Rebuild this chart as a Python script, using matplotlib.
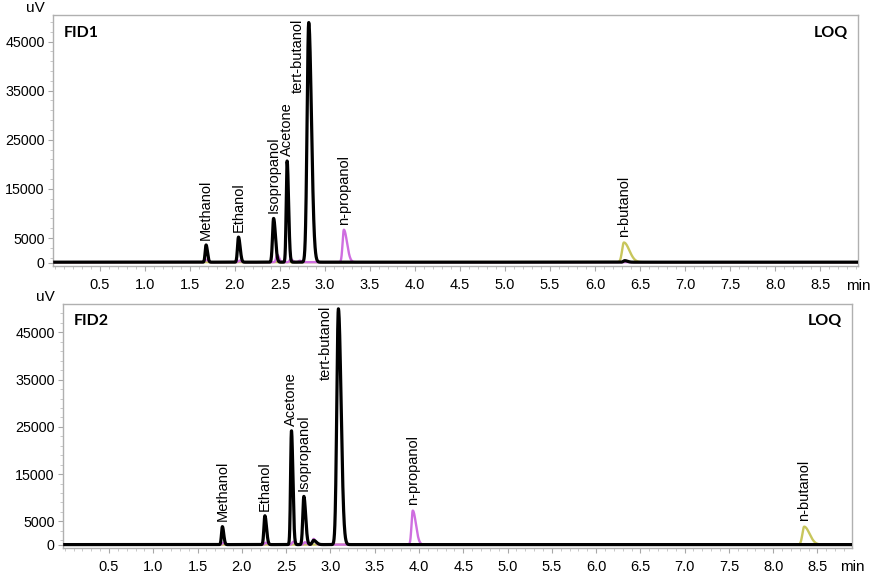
import numpy as np
import matplotlib
matplotlib.use("Agg")
import matplotlib.pyplot as plt
from matplotlib.ticker import FixedLocator, MultipleLocator

plt.rcParams['font.family'] = ['Liberation Sans', 'DejaVu Sans']

# ---------------- data ----------------
compounds = ["Methanol", "Ethanol", "Isopropanol", "Acetone", "tert-butanol", "n-propanol", "n-butanol"]
peak_trace = ["black", "black", "black", "black", "black", "magenta", "olive"]
width_left = [0.010, 0.011, 0.012, 0.010, 0.018, 0.014, 0.020]
width_right = [0.015, 0.018, 0.020, 0.016, 0.030, 0.035, 0.060]

fid1_rt = [1.68, 2.04, 2.43, 2.58, 2.82, 3.21, 6.32]
fid1_height = [3500, 5100, 8900, 20600, 48800, 6600, 4000]
fid2_rt = [1.78, 2.26, 2.70, 2.56, 3.09, 3.93, 8.35]
fid2_height = [3800, 6100, 10200, 24100, 49900, 7200, 3800]

# minor peaks of the magenta and black traces
fid1_magenta_minor_rt = [1.68, 2.05, 2.47, 2.62, 2.72]
fid1_magenta_minor_h = [500, 300, 1500, 600, 300]
fid1_black_minor_rt = [6.33]
fid1_black_minor_h = [300]
fid2_magenta_minor_rt = [1.79, 2.27, 2.58, 2.71, 2.81]
fid2_magenta_minor_h = [400, 400, 600, 500, 1200]
fid2_black_minor_rt = [2.81]
fid2_black_minor_h = [900]

y_major = [0, 5000, 15000, 25000, 35000, 45000]

colors = {"black": "#000000", "magenta": "#cf6ee0", "olive": "#c8c65c"}
line_w = {"black": 2.3, "magenta": 1.7, "olive": 1.7}


def peak(x, rt, h, sl, sr):
    s = np.where(x < rt, sl, sr)
    return h * np.exp(-0.5 * ((x - rt) / s) ** 2)


W, H = 871, 575
fig = plt.figure(figsize=(W / 100, H / 100), dpi=100)

panels = [
    dict(name="FID1", rt=fid1_rt, h=fid1_height,
         mag_rt=fid1_magenta_minor_rt, mag_h=fid1_magenta_minor_h,
         blk_rt=fid1_black_minor_rt, blk_h=fid1_black_minor_h,
         rect=[53 / W, 1 - 266 / H, (858 - 53) / W, (266 - 15) / H],
         xlim=(-0.02, 8.92), ylim=(-700, 50400),
         shifted={"tert-butanol": (-0.12, 34600)}),
    dict(name="FID2", rt=fid2_rt, h=fid2_height,
         mag_rt=fid2_magenta_minor_rt, mag_h=fid2_magenta_minor_h,
         blk_rt=fid2_black_minor_rt, blk_h=fid2_black_minor_h,
         rect=[63 / W, 1 - 548 / H, (852 - 63) / W, (548 - 304) / H],
         xlim=(-0.02, 8.89), ylim=(-640, 51000),
         shifted={"tert-butanol": (-0.14, 35000)}),
]

for p in panels:
    ax = fig.add_axes(p["rect"])
    x = np.linspace(0, p["xlim"][1], 6000)
    traces = {k: np.zeros_like(x) + 80 for k in colors}
    for i, c in enumerate(compounds):
        traces[peak_trace[i]] += peak(x, p["rt"][i], p["h"][i], width_left[i], width_right[i])
    for rt, h in zip(p["mag_rt"], p["mag_h"]):
        traces["magenta"] += peak(x, rt, h, 0.012, 0.02)
    for rt, h in zip(p["blk_rt"], p["blk_h"]):
        traces["black"] += peak(x, rt, h, 0.015, 0.03)
    for k in ["olive", "magenta", "black"]:
        ax.plot(x, traces[k], color=colors[k], lw=line_w[k], solid_joinstyle="round", zorder=3)

    for i, c in enumerate(compounds):
        if c in p["shifted"]:
            dx, yy = p["shifted"][c]
            ax.text(p["rt"][i] + dx, yy, c, rotation=90, ha="center", va="bottom", fontsize=10.5)
        else:
            ax.annotate(c, (p["rt"][i], p["h"][i]), xytext=(0, 4), textcoords="offset points",
                        rotation=90, ha="center", va="bottom", fontsize=10.5)

    ax.set_xlim(*p["xlim"])
    ax.set_ylim(*p["ylim"])
    ax.xaxis.set_major_locator(FixedLocator(np.arange(0.5, 8.51, 0.5)))
    ax.xaxis.set_minor_locator(MultipleLocator(0.1))
    ax.yaxis.set_major_locator(FixedLocator(y_major))
    ax.yaxis.set_minor_locator(FixedLocator(np.arange(1000, 50001, 2000)))
    ax.xaxis.set_major_formatter(matplotlib.ticker.FormatStrFormatter("%.1f"))
    ax.tick_params(axis="both", which="major", length=3.5, color="#a8a8a8")
    ax.tick_params(axis="x", which="major", labelsize=10.5, pad=5)
    ax.tick_params(axis="y", which="major", labelsize=10.3, pad=2.5)
    ax.tick_params(axis="both", which="minor", length=2, color="#c0c0c0")
    for s in ax.spines.values():
        s.set_color("#b0b0b0")
        s.set_linewidth(1.0)

    ax.text(0.013, 0.93, p["name"], transform=ax.transAxes, ha="left", va="center",
            fontsize=11.5, fontweight="bold", family=["Lato", "DejaVu Sans"])
    ax.text(0.987, 0.93, "LOQ", transform=ax.transAxes, ha="right", va="center",
            fontsize=11.5, fontweight="bold", family=["Lato", "DejaVu Sans"])
    ax.text(-0.01, 1.0, "uV", transform=ax.transAxes, ha="right", va="bottom", fontsize=11)
    ax.text(1.0, -0.05, "min", transform=ax.transAxes, ha="center", va="top", fontsize=11)

fig.savefig("out.png", dpi=100)
